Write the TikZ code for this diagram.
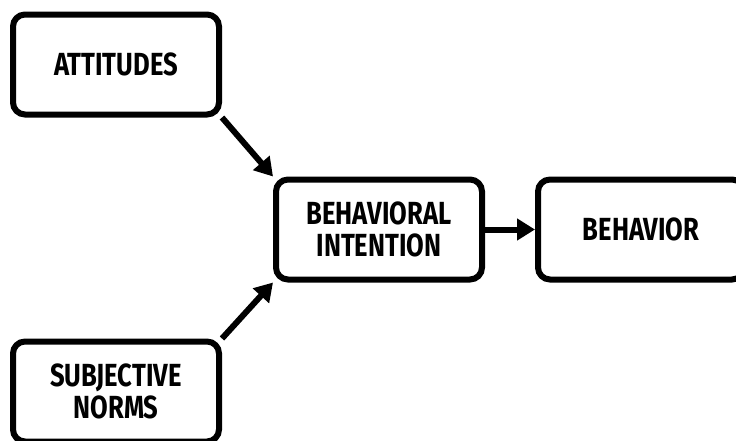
\documentclass[tikz,border=0pt]{standalone}
\usepackage{fontspec}
\newfontfamily\boxfont{Fira Sans}[FakeStretch=0.8]
\usetikzlibrary{arrows.meta,positioning}

\begin{document}
\begin{tikzpicture}[x=1pt,y=-1pt,
	tpbbox/.style={draw,line width=6pt,rounded corners=12pt,
		minimum width=206pt,minimum height=100pt,align=center,
		font=\boxfont\bfseries\fontsize{32}{32}\selectfont},
	link/.style={line width=6pt,-{Triangle[length=18pt,width=21pt]}}]
		% page frame
		\useasboundingbox (0,0) rectangle (736,440);
		\clip (0,0) rectangle (736,440);
		% the four boxes
		\node[tpbbox] (attitudes) at (116,64.5) {ATTITUDES};
		\node[tpbbox] (norms) at (116,391.5) {SUBJECTIVE\\NORMS};
		\node[tpbbox] (intention) at (379,229.5) {BEHAVIORAL\\INTENTION};
		\node[tpbbox] (behavior) at (641,229.5) {BEHAVIOR};
		% arrows
		\draw[link] (attitudes.south east) -- (intention.north west);
		\draw[link] (norms.north east) -- (intention.south west);
		\draw[link] (intention.east) -- (behavior.west);
	\end{tikzpicture}
\end{document}
